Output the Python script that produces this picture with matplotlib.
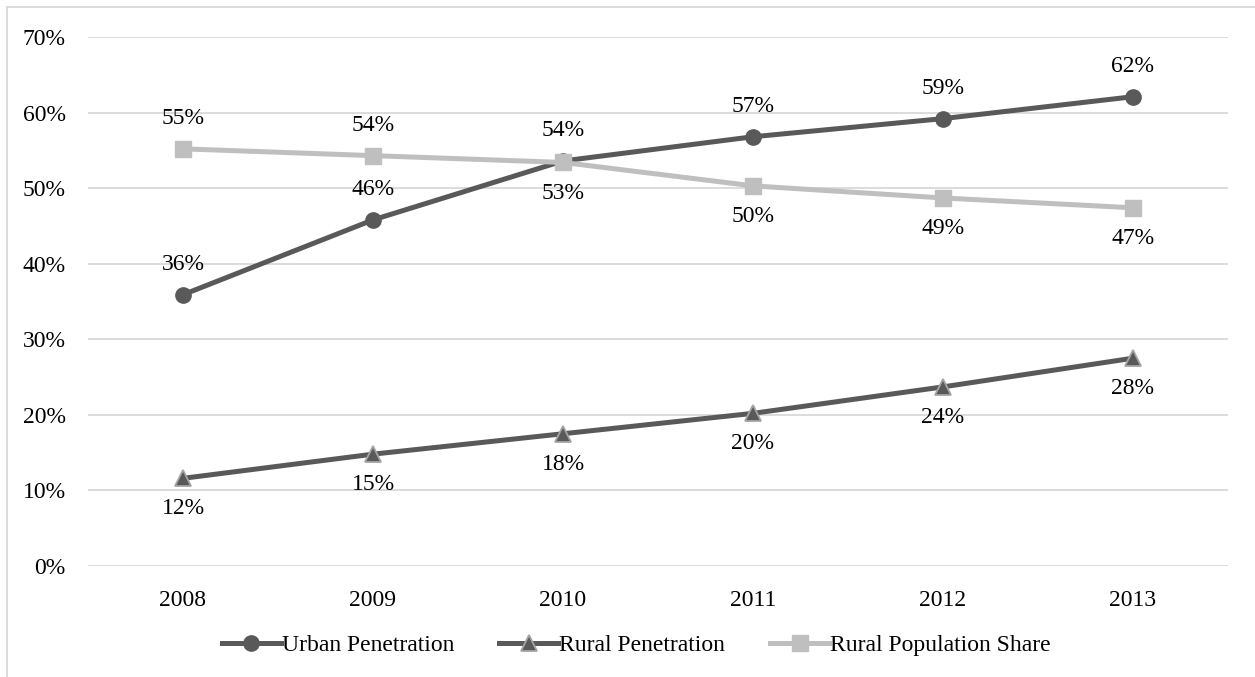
import matplotlib.pyplot as plt
from matplotlib.lines import Line2D

plt.rcParams['font.family'] = ['Liberation Serif', 'DejaVu Serif']

years = ['2008', '2009', '2010', '2011', '2012', '2013']
urban = [35.9, 45.8, 53.6, 56.8, 59.2, 62.1]
rural = [11.6, 14.8, 17.5, 20.2, 23.7, 27.5]
share = [55.2, 54.3, 53.4, 50.3, 48.7, 47.4]

# label placement per point: +1 above, -1 below
urban_pos = [1, 1, 1, 1, 1, 1]
rural_pos = [-1, -1, -1, -1, -1, -1]
share_pos = [1, 1, -1, -1, -1, -1]

fig = plt.figure(figsize=(12.55, 6.77), dpi=100)
ax = fig.add_axes([88/1255, 111/677, 1140/1255, 529/677])

x = list(range(len(years)))
ax.plot(x, urban, color='#595959', lw=3.6, marker='o', ms=11,
        mfc='#595959', mec='#595959', label='Urban Penetration', zorder=3)
ax.plot(x, rural, color='#595959', lw=3.6, marker='^', ms=11,
        mfc='#595959', mec='#a5a5a5', mew=1.3, label='Rural Penetration', zorder=3)
ax.plot(x, share, color='#bfbfbf', lw=3.6, marker='s', ms=11,
        mfc='#bfbfbf', mec='#bfbfbf', label='Rural Population Share', zorder=4)

for vals, pos in [(urban, urban_pos), (rural, rural_pos), (share, share_pos)]:
    for i, (v, p) in enumerate(zip(vals, pos)):
        ax.annotate(f'{v:.0f}%', (i, v), xytext=(0, 22 * p), textcoords='offset points',
                    ha='center', va='center', fontsize=17, color='#000000')

ax.set_xlim(-0.5, len(years) - 0.5)
ax.set_ylim(0, 70)
ax.set_yticks(range(0, 71, 10))
ax.set_yticklabels([f'{t}%' for t in range(0, 71, 10)])
ax.set_xticks(x)
ax.set_xticklabels(years)
ax.tick_params(length=0, labelsize=17, colors='#000000')
ax.tick_params(axis='y', pad=16)
ax.tick_params(axis='x', pad=17)
ax.grid(axis='y', color='#d9d9d9', lw=1.3)
ax.set_axisbelow(True)
for s in ax.spines.values():
    s.set_visible(False)

fig.legend(loc='center', bbox_to_anchor=(0.507, 0.047), ncol=3, frameon=False,
           fontsize=17, handlelength=2.5, handletextpad=0.05, columnspacing=1.9)

# thin frame on the top and left edges
fig.add_artist(Line2D([7/1255, 1], [1 - 7/677, 1 - 7/677], color='#d9d9d9', lw=1.3))
fig.add_artist(Line2D([7/1255, 7/1255], [0, 1 - 7/677], color='#d9d9d9', lw=1.3))

fig.savefig('out.png', dpi=100, facecolor='white')
